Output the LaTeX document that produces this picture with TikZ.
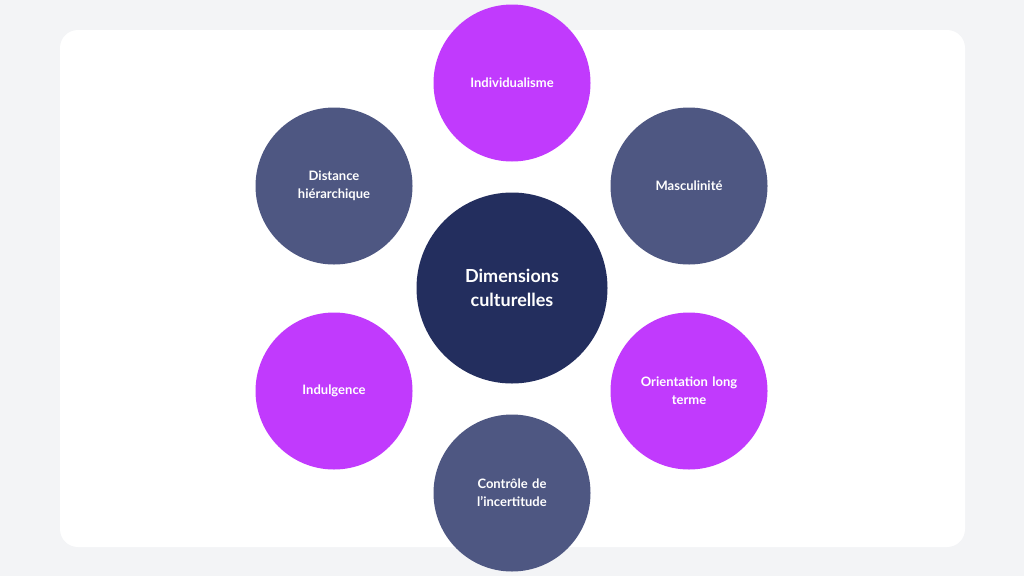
\documentclass[tikz,border=0pt]{standalone}
\usepackage{fontspec}
\setmainfont{Lato}
\definecolor{bgc}{HTML}{F3F4F6}
\definecolor{violet}{HTML}{C13AFD}
\definecolor{ardoise}{HTML}{4E5782}
\definecolor{nuit}{HTML}{232E5E}
\tikzset{
  dim/.style={circle, minimum size=157pt, inner sep=0pt, text=white, align=center,
    text width=120pt, font=\fontsize{13}{18}\selectfont\bfseries},
  violette/.style={dim, fill=violet},
  grise/.style={dim, fill=ardoise}
}
\begin{document}
\begin{tikzpicture}[x=1pt,y=-1pt]
\fill[bgc] (0,0) rectangle (1024,576);
\fill[white, rounded corners=18pt] (60,30) rectangle (965,547);
\node[circle, minimum size=191pt, fill=nuit, text=white, align=center,
  font=\fontsize{18}{24}\selectfont\bfseries] (centre) at (512,288) {Dimensions\\culturelles};
\node[violette] (indiv) at (512,83) {Individualisme};
\node[grise] (masc) at (689,186) {Masculinité};
\node[violette] (orient) at (689,391) {Orientation long\\terme};
\node[grise] (incert) at (512,493) {Contrôle de\\l'incertitude};
\node[violette] (indulg) at (334,391) {Indulgence};
\node[grise] (dist) at (334,186) {Distance\\hiérarchique};
\end{tikzpicture}
\end{document}
